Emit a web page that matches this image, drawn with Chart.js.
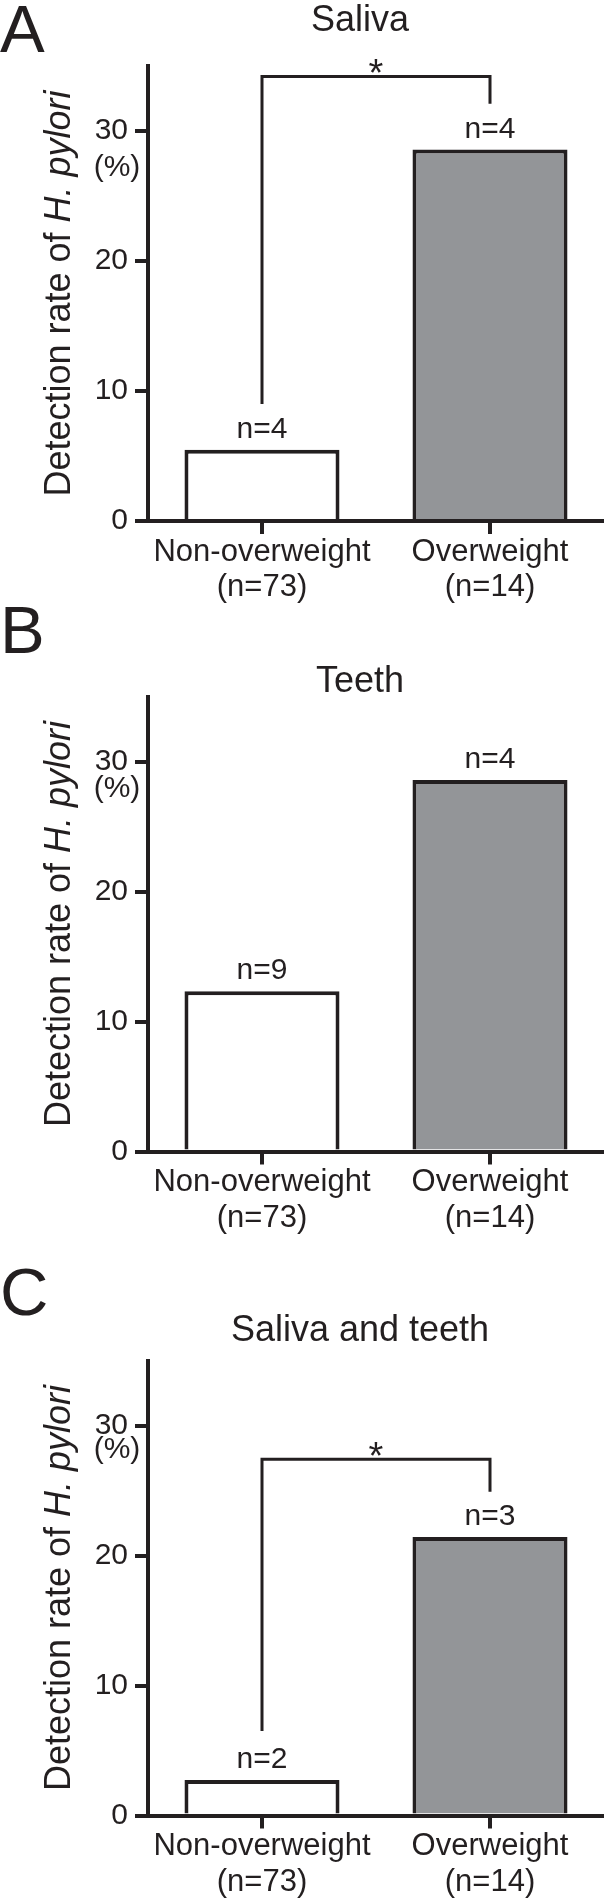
<!DOCTYPE html>
<html>
<head>
<meta charset="utf-8">
<script src="https://cdn.jsdelivr.net/npm/chart.js@4.4.1/dist/chart.umd.min.js"></script>
<style>
  html, body { margin: 0; padding: 0; background: #fff; overflow: hidden; }
  #page { position: relative; width: 604px; height: 1900px; }
  #page canvas { position: absolute; left: 0; }
</style>
</head>
<body>
<div id="page">
  <canvas id="panelA" width="604" height="640" style="top:0px"></canvas>
  <canvas id="panelB" width="604" height="640" style="top:600px"></canvas>
  <canvas id="panelC" width="604" height="640" style="top:1260px"></canvas>
</div>
<script>
// values (detection rate, %)
const categories = [['Non-overweight', '(n=73)'], ['Overweight', '(n=14)']];
const salivaRates = [5.48, 28.57];
const teethRates = [12.33, 28.57];
const bothRates = [2.74, 21.43];
const salivaCounts = ['n=4', 'n=4'];
const teethCounts = ['n=9', 'n=4'];
const bothCounts = ['n=2', 'n=3'];
// significance bracket: [top, left leg end, right leg end] in %
const salivaBracket = [34.2, 9.0, 32.1];
const bothBracket = [27.4, 6.5, 24.9];
const yMax = 35;
const yStep = 10;

const ink = '#231f20';
const grey = '#939598';
const fontFamily = '"Liberation Sans", Arial, Helvetica, sans-serif';
Chart.defaults.font.family = fontFamily;
Chart.defaults.color = ink;

const panelDecor = {
    id: 'panelDecor',
    afterDraw(chart, args, opts) {
        const ctx = chart.ctx;
        const area = chart.chartArea;
        const xs = chart.scales.x;
        const ys = chart.scales.y;
        ctx.save();
        ctx.fillStyle = ink;
        ctx.strokeStyle = ink;
        ctx.textBaseline = 'alphabetic';

        // panel letter and title
        ctx.textAlign = 'left';
        ctx.font = '67px ' + fontFamily;
        ctx.fillText(opts.letter, opts.letterX, opts.letterY);
        ctx.textAlign = 'center';
        ctx.font = '36px ' + fontFamily;
        ctx.fillText(opts.title, 360, opts.titleY);

        // y axis title, partly italic
        const part1 = 'Detection rate of ';
        const part2 = 'H. pylori';
        ctx.font = '36px ' + fontFamily;
        const w1 = ctx.measureText(part1).width;
        ctx.font = 'italic 36px ' + fontFamily;
        const w2 = ctx.measureText(part2).width;
        ctx.save();
        ctx.translate(70, (area.top + area.bottom) / 2);
        ctx.rotate(-Math.PI / 2);
        ctx.textAlign = 'left';
        ctx.font = '36px ' + fontFamily;
        ctx.fillText(part1, -(w1 + w2) / 2, 0);
        ctx.font = 'italic 36px ' + fontFamily;
        ctx.fillText(part2, -(w1 + w2) / 2 + w1, 0);
        ctx.restore();

        // unit under the 30 tick
        ctx.textAlign = 'center';
        ctx.font = '30px ' + fontFamily;
        ctx.fillText('(%)', 117, area.top + opts.pctOffset);

        // n= labels over the bars
        const bars = chart.getDatasetMeta(0).data;
        bars.forEach((bar, i) => {
            ctx.fillText(opts.counts[i], bar.x, bar.y - 12);
        });

        // significance bracket
        if (opts.bracket) {
            const b = opts.bracket;
            const xL = xs.getPixelForValue(0);
            const xR = xs.getPixelForValue(1);
            const yT = ys.getPixelForValue(b[0]);
            ctx.lineWidth = 3;
            ctx.beginPath();
            ctx.moveTo(xL, ys.getPixelForValue(b[1]));
            ctx.lineTo(xL, yT);
            ctx.lineTo(xR, yT);
            ctx.lineTo(xR, ys.getPixelForValue(b[2]));
            ctx.stroke();
            ctx.font = '38px ' + fontFamily;
            ctx.fillText('*', (xL + xR) / 2, yT + 10);
        }
        ctx.restore();
    }
};

function makePanel(canvasId, rates, decor, padTop) {
    const areaHeight = 455;
    const canvasHeight = 640;
    const config = {
        type: 'bar',
        data: {
            labels: categories,
            datasets: [{
                data: rates,
                backgroundColor: ['#ffffff', grey],
                borderColor: ink,
                borderWidth: 4,
                categoryPercentage: 1,
                barPercentage: 0.68
            }]
        },
        options: {
            responsive: false,
            animation: false,
            layout: { padding: { top: padTop, left: 0, right: 0, bottom: 0 } },
            plugins: {
                legend: { display: false },
                tooltip: { enabled: false },
                panelDecor: decor
            },
            scales: {
                x: {
                    grid: {
                        offset: false,
                        drawOnChartArea: false,
                        drawTicks: true,
                        tickLength: 13,
                        lineWidth: 4,
                        color: ink
                    },
                    border: { display: true, width: 4, color: ink },
                    ticks: {
                        color: ink,
                        padding: 0,
                        font: { size: 31, lineHeight: 1.16 },
                        maxRotation: 0
                    },
                    afterFit(scale) {
                        scale.height = canvasHeight - padTop - areaHeight;
                    }
                },
                y: {
                    min: 0,
                    max: yMax,
                    grid: {
                        drawOnChartArea: false,
                        drawTicks: true,
                        tickLength: 13,
                        lineWidth: 4,
                        color: ink
                    },
                    border: { display: true, width: 4, color: ink },
                    ticks: {
                        stepSize: yStep,
                        includeBounds: false,
                        color: ink,
                        padding: 7,
                        font: { size: 30 }
                    },
                    afterFit(scale) {
                        scale.width = 148;
                    }
                }
            }
        },
        plugins: [panelDecor]
    };
    return new Chart(document.getElementById(canvasId), config);
}

makePanel('panelA', salivaRates, {
    letter: 'A', letterX: 0, letterY: 52,
    title: 'Saliva', titleY: 31,
    counts: salivaCounts, bracket: salivaBracket, pctOffset: 110
}, 66);

makePanel('panelB', teethRates, {
    letter: 'B', letterX: 0, letterY: 53,
    title: 'Teeth', titleY: 92,
    counts: teethCounts, bracket: null, pctOffset: 100
}, 96.5);

makePanel('panelC', bothRates, {
    letter: 'C', letterX: 0, letterY: 55,
    title: 'Saliva and teeth', titleY: 81,
    counts: bothCounts, bracket: bothBracket, pctOffset: 97
}, 100.5);
</script>
</body>
</html>
